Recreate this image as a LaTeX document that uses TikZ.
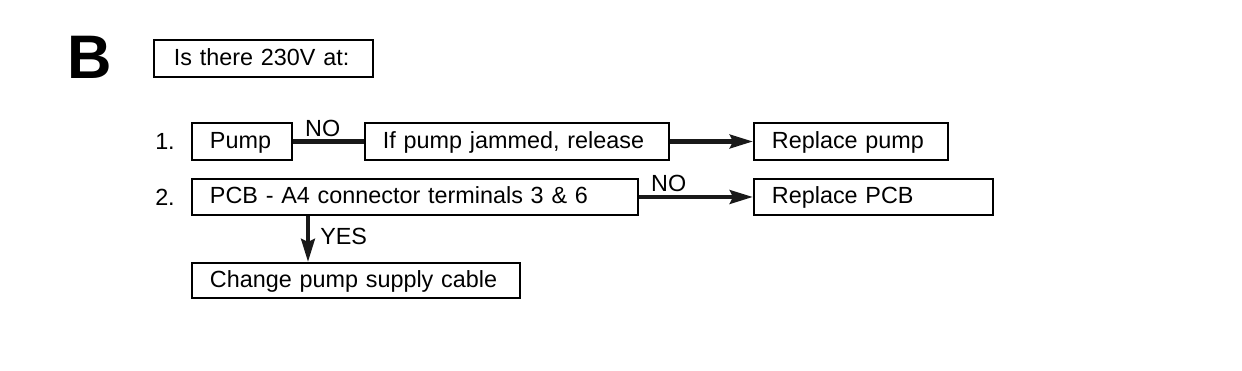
\documentclass[tikz,border=0pt]{standalone}
\usepackage{fontspec}
\setmainfont{Liberation Sans}
\usepackage{xcolor}
\usepackage{tikz}
\usetikzlibrary{arrows.meta, positioning, calc}

\begin{document}
\begin{tikzpicture}[x=1cm, y=1cm,
  box/.style={draw=black, line width=1.1pt, anchor=west, align=left,
    inner xsep=0.36cm, inner ysep=0pt, minimum height=0.73cm,
    text height=10pt, text depth=2.4pt,
    font=\fontsize{13.3}{15}\selectfont},
  flow/.style={line width=2.6pt, draw=black!90},
  flowarrow/.style={flow, -{Stealth[length=0.46cm, width=0.27cm, inset=0.06cm]}},
  tag/.style={font=\fontsize{13.3}{15}\selectfont, inner xsep=0.2cm, inner ysep=1.5pt},
  numlabel/.style={font=\fontsize{13.3}{15}\selectfont}]
\useasboundingbox (0,0) rectangle (24.84,7.42);
\node[font=\fontsize{35}{35}\selectfont\bfseries] (sec) at (1.80,6.28) {B};
\node[box, text width=3.58cm, inner xsep=0.40cm] (ask) at (3.06,6.25) {Is there 230V at:};
% row 1
\node[numlabel] (n1) at (3.30,4.60) {1.};
\node[box, text width=1.28cm] (pump) at (3.82,4.59) {Pump};
\node[box, text width=5.36cm] (jam) at (7.28,4.59) {If pump jammed, release};
\node[box, text width=3.16cm] (reppump) at (15.06,4.59) {Replace pump};
\draw[flow] (pump.east) -- node[pos=0, anchor=south west, tag] {NO} (jam.west);
\draw[flowarrow] (jam.east) -- (reppump.west);
% row 2
\node[numlabel] (n2) at (3.30,3.48) {2.};
\node[box, text width=8.20cm] (pcb) at (3.82,3.48) {PCB - A4 connector terminals 3 \& 6};
\node[box, text width=4.06cm] (reppcb) at (15.06,3.48) {Replace PCB};
\node[box, text width=5.84cm, minimum height=0.70cm] (cable) at (3.82,1.81) {Change pump supply cable};
\draw[flowarrow] (pcb.east) -- node[pos=0, anchor=south west, tag] {NO} (reppcb.west);
\coordinate (yes) at (6.16,3.48);
\draw[flowarrow] (yes |- pcb.south) -- node[pos=0.45, anchor=west, tag] {YES} (yes |- cable.north);
\end{tikzpicture}
\end{document}
